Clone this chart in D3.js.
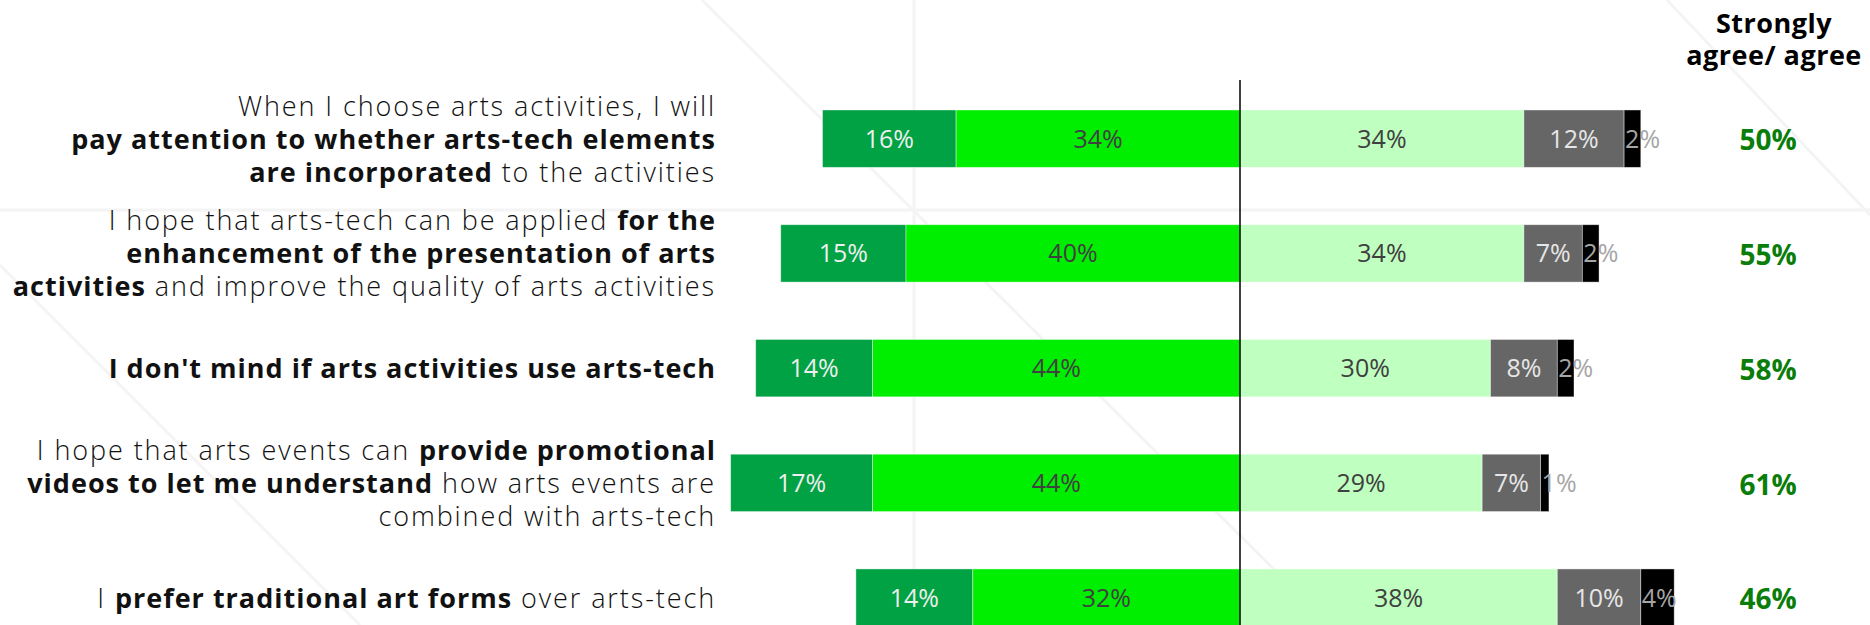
<!DOCTYPE html>
<html>
<head>
<meta charset="utf-8">
<script src="https://cdn.jsdelivr.net/npm/d3@7"></script>
<style>
  html, body { margin: 0; padding: 0; background: #fff; overflow: hidden; }
  svg text { white-space: pre; }
</style>
</head>
<body>
<div id="chart-div"></div>
<script>
// statements, one array of lines per row; **text** marks the bold parts
const statements = [
  ["When I choose arts activities, I will",
   "**pay attention to whether arts-tech elements**",
   "**are incorporated** to the activities"],
  ["I hope that arts-tech can be applied **for the**",
   "**enhancement of the presentation of arts**",
   "**activities** and improve the quality of arts activities"],
  ["**I don't mind if arts activities use arts-tech**"],
  ["I hope that arts events can **provide promotional**",
   "**videos to let me understand** how arts events are",
   "combined with arts-tech"],
  ["I **prefer traditional art forms** over arts-tech"]
];

const stronglyAgree = [16, 15, 14, 17, 14];
const agree = [34, 40, 44, 44, 32];
const neutral = [34, 34, 30, 29, 38];
const disagree = [12, 7, 8, 7, 10];
const stronglyDisagree = [2, 2, 2, 1, 4];
const agreeTotals = [50, 55, 58, 61, 46];
const totalHeader = ["Strongly", "agree/ agree"];

class DivergingChart {

  constructor() {
    this.width = 1870;
    this.height = 625;

    this.svg = d3.select("div#chart-div").append("svg")
      .attr("width", this.width)
      .attr("height", this.height);

    this.x = d3.scaleLinear().domain([-60, 60]).range([739, 1741]);
    this.y = d3.scaleBand()
      .domain(d3.range(statements.length))
      .range([81.3, 655])
      .paddingInner(0.5)
      .paddingOuter(0.25);

    this.colors = {
      sa: "#00a243", a: "#00ee00", n: "#bfffbf", d: "#666666", sd: "#000000"
    };
    this.labelColors = {
      sa: "#eeeeee", a: "#404040", n: "#404040", d: "#e6e6e6", sd: "#a6a6a6"
    };
  }

  drawBackground() {
    // faint watermark lines behind the chart
    const bg = this.svg.append("g").attr("stroke", "#f4f4f4").attr("stroke-width", 3);
    bg.append("line").attr("x1", 0).attr("x2", this.width).attr("y1", 210).attr("y2", 210);
    bg.append("line").attr("x1", 914).attr("x2", 914).attr("y1", 0).attr("y2", this.height);
    bg.append("line").attr("x1", 702).attr("y1", 0).attr("x2", 1330).attr("y2", 625);
    bg.append("line").attr("x1", 0).attr("y1", 265).attr("x2", 360).attr("y2", 625);
    bg.append("line").attr("x1", 1667).attr("y1", 0).attr("x2", 1870).attr("y2", 215);
  }

  drawBars() {
    const rows = statements.map((s, i) => {
      const sa = stronglyAgree[i], a = agree[i], n = neutral[i], d = disagree[i], sd = stronglyDisagree[i];
      return [
        { row: i, key: "sa", value: sa, from: -(a + sa), to: -a },
        { row: i, key: "a", value: a, from: -a, to: 0 },
        { row: i, key: "n", value: n, from: 0, to: n },
        { row: i, key: "d", value: d, from: n, to: n + d },
        { row: i, key: "sd", value: sd, from: n + d, to: n + d + sd }
      ];
    }).flat();

    const bars = this.svg.append("g").attr("class", "bars");

    bars.selectAll("rect")
      .data(rows)
      .enter()
      .append("rect")
      .attr("x", d => this.x(d.from))
      .attr("width", d => this.x(d.to) - this.x(d.from))
      .attr("y", d => this.y(d.row))
      .attr("height", this.y.bandwidth())
      .attr("fill", d => this.colors[d.key])
      .attr("stroke", "rgba(255,255,255,0.5)")
      .attr("stroke-width", 0.8);

    bars.selectAll("text")
      .data(rows)
      .enter()
      .append("text")
      .attr("x", d => d.key === "sd" ? this.x(d.from) + 1 : (this.x(d.from) + this.x(d.to)) / 2)
      .attr("y", d => this.y(d.row) + this.y.bandwidth() / 2)
      .attr("dy", "0.36em")
      .attr("text-anchor", d => d.key === "sd" ? "start" : "middle")
      .attr("font-family", "'Open Sans', sans-serif")
      .attr("font-size", 25)
      .attr("fill", d => this.labelColors[d.key])
      .text(d => d.value + "%");

    // zero line
    this.svg.append("line")
      .attr("x1", this.x(0)).attr("x2", this.x(0))
      .attr("y1", 80).attr("y2", this.height)
      .attr("stroke", "#000")
      .attr("stroke-width", 1.5);
  }

  drawStatements() {
    const lineGap = 33;
    const g = this.svg.append("g").attr("class", "statements");

    statements.forEach((lines, i) => {
      const cy = this.y(i) + this.y.bandwidth() / 2;
      const first = cy - (lines.length - 1) * lineGap / 2 + 10;

      lines.forEach((line, j) => {
        const text = g.append("text")
          .attr("x", 716)
          .attr("y", first + j * lineGap)
          .attr("text-anchor", "end")
          .attr("font-family", "'Open Sans', sans-serif")
          .attr("font-size", 27)
          .attr("fill", "#111");

        line.split("**").forEach((part, k) => {
          if (!part) return;
          const bold = k % 2 === 1;
          text.append("tspan")
            .attr("font-weight", bold ? 700 : 300)
            .attr("letter-spacing", bold ? 1 : 1.9)
            .text(part);
        });
      });
    });
  }

  drawTotals() {
    const cx = 1768;
    const g = this.svg.append("g").attr("class", "totals");

    g.selectAll("text.header")
      .data(totalHeader)
      .enter()
      .append("text")
      .attr("class", "header")
      .attr("x", cx + 6)
      .attr("y", (d, i) => 33 + i * 32)
      .attr("text-anchor", "middle")
      .attr("font-family", "'Open Sans', sans-serif")
      .attr("font-weight", 700)
      .attr("font-size", 27)
      .attr("letter-spacing", 0.5)
      .attr("fill", "#000")
      .text(d => d);

    g.selectAll("text.value")
      .data(agreeTotals)
      .enter()
      .append("text")
      .attr("class", "value")
      .attr("x", cx)
      .attr("y", (d, i) => this.y(i) + this.y.bandwidth() / 2)
      .attr("dy", "0.42em")
      .attr("text-anchor", "middle")
      .attr("font-family", "'Open Sans', sans-serif")
      .attr("font-weight", 700)
      .attr("font-size", 28)
      .attr("fill", "#0a7d0a")
      .text(d => d + "%");
  }
}

const chart = new DivergingChart();
chart.drawBackground();
chart.drawBars();
chart.drawStatements();
chart.drawTotals();
</script>
</body>
</html>
